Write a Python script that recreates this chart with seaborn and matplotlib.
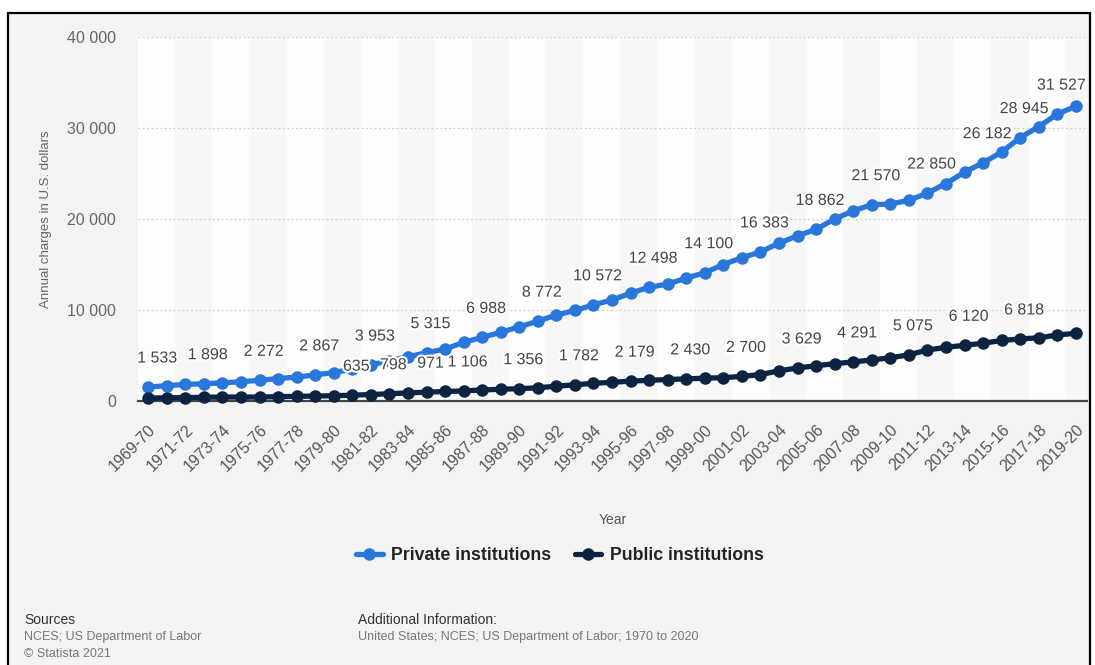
import matplotlib
matplotlib.use("Agg")
import matplotlib.pyplot as plt
import matplotlib.patheffects as pe
from matplotlib.patches import Rectangle
from matplotlib.lines import Line2D
from matplotlib.ticker import FuncFormatter, FixedLocator
import numpy as np
import pandas as pd
import seaborn as sns

# Academic years 1969-70 ... 2019-20
years = [f"{y}-{str(y + 1)[-2:]}" for y in range(1969, 2020)]

private_charges = [
    1533, 1684, 1820, 1898, 1989, 2117, 2272, 2467, 2624, 2867,
    3130, 3498, 3953, 4439, 4851, 5315, 5700, 6450, 6988, 7550,
    8150, 8772, 9450, 9950, 10572, 11100, 11850, 12498, 12850, 13500,
    14100, 15000, 15750, 16383, 17350, 18150, 18862, 20000, 20900, 21570,
    21650, 22050, 22850, 23900, 25150, 26182, 27350, 28945, 30150, 31527,
    32400,
]
public_charges = [
    323, 351, 376, 407, 438, 432, 433, 479, 512, 543,
    583, 635, 714, 798, 891, 971, 1045, 1106, 1218, 1285,
    1356, 1454, 1624, 1782, 1942, 2057, 2179, 2271, 2360, 2430,
    2506, 2562, 2700, 2903, 3319, 3629, 3874, 4102, 4291, 4512,
    4751, 5075, 5600, 5900, 6120, 6350, 6650, 6818, 6950, 7250,
    7450,
]

# Points that carry a value label
private_labeled = [0, 3, 6, 9, 12, 15, 18, 21, 24, 27, 30, 33, 36, 39, 42, 45, 47, 49]
public_labeled = [11, 13, 15, 17, 20, 23, 26, 29, 32, 35, 38, 41, 44, 47]

series_names = ["Private institutions", "Public institutions"]
series_colors = ["#2a77dc", "#0c2341"]

df = pd.concat([
    pd.DataFrame({"idx": np.arange(len(years)), "year": years,
                  "charges": private_charges, "type": series_names[0]}),
    pd.DataFrame({"idx": np.arange(len(years)), "year": years,
                  "charges": public_charges, "type": series_names[1]}),
])

sns.set_theme(style="white")
plt.rcParams["font.family"] = ["Liberation Sans", "DejaVu Sans"]

W, H = 1095, 665
fig = plt.figure(figsize=(W / 100, H / 100), dpi=100)
fig.patch.set_facecolor("white")

# framed grey panel, kept behind the axes
frame = Rectangle((8 / W, -0.02), (1090 - 8) / W, 1 - 13 / H + 0.02,
                  transform=fig.transFigure, facecolor="#f3f3f3",
                  edgecolor="black", linewidth=1.6, zorder=-5)
fig.patches.append(frame)

ax = fig.add_axes([138 / W, 1 - 401 / H, (1087 - 138) / W, (401 - 37) / H])
ax.set_facecolor("#fdfdfd")

# faint alternating column bands
for k in range(2, 51, 4):
    ax.axvspan(k - 0.55, min(k + 2 - 0.55, 50.6), color="#f7f7f7", zorder=0, lw=0)

sns.lineplot(data=df, x="idx", y="charges", hue="type",
             hue_order=series_names, palette=series_colors,
             marker="o", markersize=9, markeredgewidth=0,
             linewidth=3.8, ax=ax, legend=False, zorder=3)
for ln in ax.lines:
    ln.set_clip_on(False)

ax.set_xlim(-0.55, 50.6)
ax.set_ylim(0, 40000)

ax.yaxis.set_major_locator(FixedLocator([0, 10000, 20000, 30000, 40000]))
ax.yaxis.set_major_formatter(FuncFormatter(lambda v, p: f"{int(v):,}".replace(",", " ")))
ax.grid(axis="y", color="#d0d0d0", linestyle=(0, (1.5, 2)), linewidth=0.9)
ax.grid(axis="x", visible=False)
ax.set_axisbelow(True)

tick_pos = list(range(0, 51, 2))
ax.set_xticks(tick_pos)
ax.set_xticklabels([years[i] for i in tick_pos], rotation=45, ha="right",
                   rotation_mode="anchor")
ax.tick_params(axis="x", length=0, pad=15, labelsize=11.5, labelcolor="#555555")
ax.tick_params(axis="y", length=0, pad=16, labelsize=11.5, labelcolor="#666666")

for s in ["left", "right", "top"]:
    ax.spines[s].set_visible(False)
ax.spines["bottom"].set_color("#444444")
ax.spines["bottom"].set_linewidth(1.6)
ax.spines["bottom"].set_zorder(2)

ax.set_xlabel("Year", fontsize=10, color="#555555")
ax.xaxis.set_label_coords(0.5, -(520 - 401) / 364)
ax.xaxis.label.set_va("center")
ax.set_ylabel("Annual charges in U.S. dollars", fontsize=9.5, color="#666666")
ax.yaxis.set_label_coords(-(138 - 46) / 949, 0.5)
ax.yaxis.label.set_va("center")


def fmt(v):
    return f"{v:,}".replace(",", " ")


halo = [pe.withStroke(linewidth=3, foreground="white")]
for vals, idxs in [(private_charges, private_labeled), (public_charges, public_labeled)]:
    for i in idxs:
        dx = 9 if i == 0 else 4
        ax.annotate(fmt(vals[i]), xy=(i, vals[i]), xytext=(dx, 29),
                    textcoords="offset pixels", ha="center", va="center",
                    fontsize=11.5, color="#454545", path_effects=halo,
                    annotation_clip=False, zorder=5)

handles = [Line2D([0], [0], color=c, linewidth=3.8, marker="o", markersize=9,
                  markeredgewidth=0) for c in series_colors]
fig.legend(handles, series_names, loc="center", bbox_to_anchor=(560 / W, 1 - 556 / H),
           ncol=2, frameon=False, handlelength=1.5, handletextpad=0.5,
           columnspacing=1.3, prop={"weight": "bold", "size": 12.8},
           labelcolor="#222222")

fig.text(24 / W, 1 - 620 / H, "Sources", fontsize=10, color="#333333", va="center")
fig.text(24 / W, 1 - 637 / H, "NCES; US Department of Labor", fontsize=9,
         color="#777777", va="center")
fig.text(24 / W, 1 - 654 / H, "© Statista 2021", fontsize=9, color="#777777", va="center")
fig.text(358 / W, 1 - 620 / H, "Additional Information:", fontsize=10,
         color="#333333", va="center")
fig.text(358 / W, 1 - 637 / H, "United States; NCES; US Department of Labor; 1970 to 2020",
         fontsize=9, color="#777777", va="center")

fig.savefig("out.png", dpi=100, facecolor=fig.get_facecolor())
